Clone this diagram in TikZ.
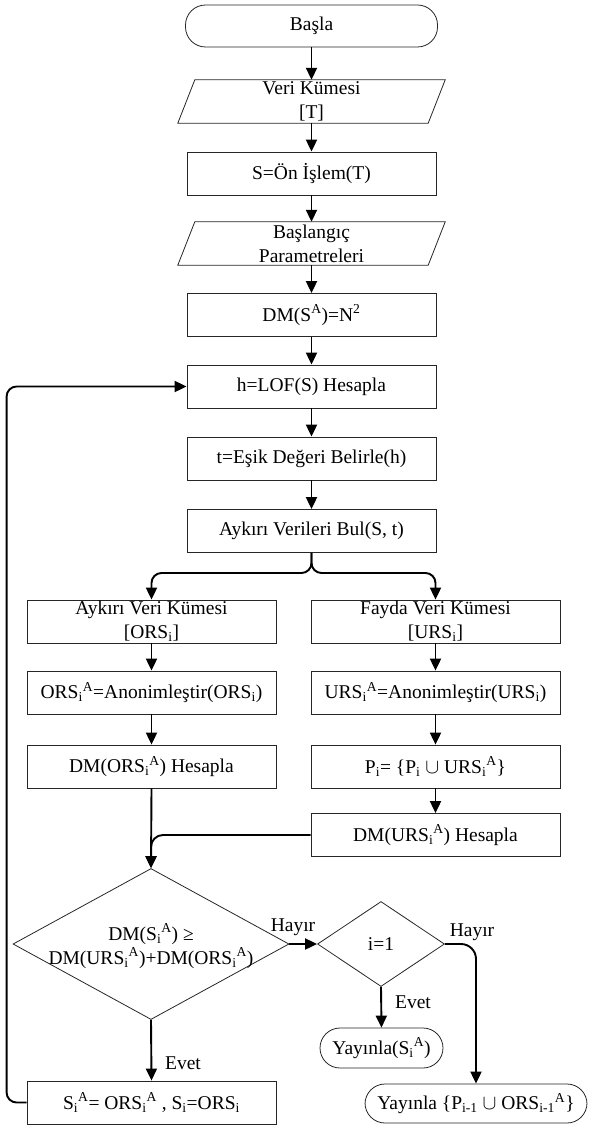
\documentclass[tikz,border=0pt]{standalone}
\usepackage{fontspec}
\setmainfont{Liberation Serif}
\usetikzlibrary{arrows.meta,shapes.geometric,calc}
\begin{document}
\begin{tikzpicture}[x=1pt,y=-1pt,
  font=\fontsize{19.5}{24}\selectfont,
  box/.style={draw=black!85, line width=0.8pt, rectangle, minimum width=249pt, minimum height=43pt, inner sep=0pt, align=center},
  plainbox/.style={rectangle, minimum width=250pt, minimum height=43pt, inner sep=0pt, align=center},
  para/.style={draw=black!85, line width=0.8pt},
  term/.style={draw=black!85, line width=0.8pt, rectangle, rounded corners=20pt, inner sep=0pt, align=center},
  dia/.style={draw=black!85, line width=0.8pt, diamond, inner sep=0pt, align=center},
  arr/.style={line width=1.9pt, -{Triangle[length=12pt,width=11pt]}},
  lbl/.style={inner sep=0pt}]
\useasboundingbox (0,0) rectangle (589,1126);

% top column
\node[term, minimum width=252pt, minimum height=42pt] (start) at (311.5,26) {Başla};
\node[plainbox] (veri) at (311.5,101.5) {Veri Kümesi\\{[T]}};
\draw[para] ([xshift=-8.5pt]veri.south west) -- ([xshift=8.5pt]veri.north west) -- ([xshift=8.5pt]veri.north east) -- ([xshift=-8.5pt]veri.south east) -- cycle;
\node[box] (on) at (311.5,173.5) {S=Ön İşlem(T)};
\node[plainbox] (param) at (311.5,243.5) {Başlangıç\\Parametreleri};
\draw[para] ([xshift=-8.5pt]param.south west) -- ([xshift=8.5pt]param.north west) -- ([xshift=8.5pt]param.north east) -- ([xshift=-8.5pt]param.south east) -- cycle;
\node[box] (dm) at (311.5,315) {DM(S\textsuperscript{A})=N\textsuperscript{2}};
\node[box] (lof) at (311.5,386.5) {h=LOF(S) Hesapla};
\node[box] (esik) at (311.5,458.5) {t=Eşik Değeri Belirle(h)};
\node[box] (bul) at (311.5,531) {Aykırı Verileri Bul(S, t)};
\coordinate (split) at (311.5,573);

% two branches
\node[box] (ors) at (151.5,621.5) {Aykırı Veri Kümesi\\{[ORS\textsubscript{i}]}};
\node[box] (urs) at (435.5,621.5) {Fayda Veri Kümesi\\{[URS\textsubscript{i}]}};
\node[box] (orsa) at (151.5,692.5) {ORS\textsubscript{i}\textsuperscript{A}=Anonimleştir(ORS\textsubscript{i})};
\node[box] (ursa) at (435.5,692.5) {URS\textsubscript{i}\textsuperscript{A}=Anonimleştir(URS\textsubscript{i})};
\node[box] (dmors) at (151.5,766.5) {DM(ORS\textsubscript{i}\textsuperscript{A}) Hesapla};
\node[box] (pi) at (435.5,766.5) {P\textsubscript{i}= \{P\textsubscript{i} $\cup$ URS\textsubscript{i}\textsuperscript{A}\}};
\node[box] (dmurs) at (435.5,835) {DM(URS\textsubscript{i}\textsuperscript{A}) Hesapla};

% decisions
\node[dia, minimum width=276pt, minimum height=151pt] (cmp) at (151,944) {};
\node[align=center, inner sep=0pt] (cmptxt) at (151,946) {DM(S\textsubscript{i}\textsuperscript{A}) ≥\\DM(URS\textsubscript{i}\textsuperscript{A})+DM(ORS\textsubscript{i}\textsuperscript{A})};
\node[dia, minimum width=127pt, minimum height=85pt] (ione) at (381,944) {i=1};

% ends
\node[term, minimum width=123pt, minimum height=40pt] (yay1) at (381.5,1048) {Yayınla(S\textsubscript{i}\textsuperscript{A})};
\node[box] (upd) at (151.5,1102.5) {S\textsubscript{i}\textsuperscript{A}= ORS\textsubscript{i}\textsuperscript{A} , S\textsubscript{i}=ORS\textsubscript{i}};
\node[term, minimum width=222pt, minimum height=39pt] (yay2) at (476,1103.5) {Yayınla \{P\textsubscript{i-1} $\cup$ ORS\textsubscript{i-1}\textsuperscript{A}\}};

% connectors
\draw[arr] (start) -- (veri);
\draw[arr] (veri) -- (on);
\draw[arr] (on) -- (param);
\draw[arr] (param) -- (dm);
\draw[arr] (dm) -- (lof);
\draw[arr] (lof) -- (esik);
\draw[arr] (esik) -- (bul);
\draw[arr, rounded corners=10pt] (bul.south) -- (split) -| (ors.north);
\draw[arr, rounded corners=10pt] (bul.south) -- (split) -| (urs.north);
\draw[arr] (ors) -- (orsa);
\draw[arr] (orsa) -- (dmors);
\draw[arr] (urs) -- (ursa);
\draw[arr] (ursa) -- (pi);
\draw[arr] (pi) -- (dmurs);
\draw[arr] (dmors.south) -- (cmp.north);
\draw[arr, rounded corners=12pt] (dmurs.west) -| (cmp.north);
\draw[arr] (cmp.east) -- (ione.west);
\draw[arr, rounded corners=15pt] (ione.east) -| (yay2.north);
\draw[arr] (ione.south) -- (yay1.north);
\draw[arr] (cmp.south) -- (upd.north);
\draw[arr, rounded corners=10pt] (upd.west) -- ++(-20pt,0) |- (lof.west);

% labels
\node[lbl] (h1) at (293,927) {Hayır};
\node[lbl] (h2) at (472,932) {Hayır};
\node[lbl] (e1) at (413,1002) {Evet};
\node[lbl] (e2) at (183,1063) {Evet};
\end{tikzpicture}
\end{document}
